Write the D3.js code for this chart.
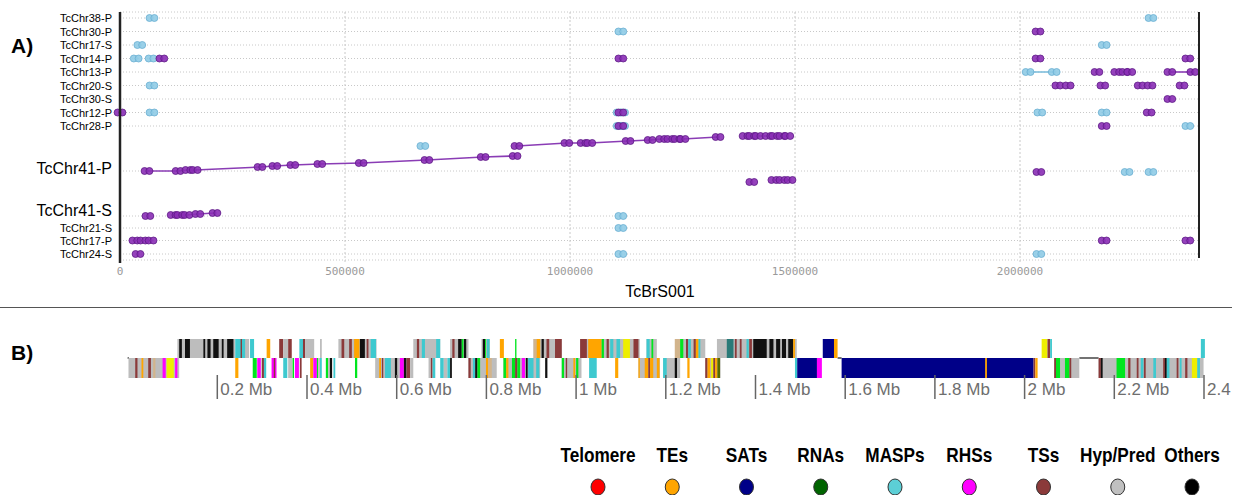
<!DOCTYPE html>
<meta charset="utf-8">
<style>
body { margin: 0; background: #fff; }
text { font-family: "Liberation Sans", Arial, sans-serif; }
</style>
<script src="https://cdn.jsdelivr.net/npm/d3@7"></script>
<body>
</body>
<script>

// ---- panel A data ----
var rows = ["TcChr38-P","TcChr30-P","TcChr17-S","TcChr14-P","TcChr13-P","TcChr20-S","TcChr30-S",
            "TcChr12-P","TcChr28-P","TcChr41-P","TcChr41-S","TcChr21-S","TcChr17-P","TcChr24-S"];
var bigRows = ["TcChr41-P","TcChr41-S"];
var axisTicks = [0, 500000, 1000000, 1500000, 2000000];
var refName = "TcBrS001";

// hits: [row, position kb on TcBrS001, position on query (band rows only), kind, chain]
var hits = [
  ["TcChr38-P", 71, 0, "b", null], ["TcChr38-P", 2291, 0, "b", null],
  ["TcChr30-P", 1113, 0, "b", null], ["TcChr30-P", 2040, 0, "p", null],
  ["TcChr17-S", 44, 0, "b", null], ["TcChr17-S", 2187, 0, "b", null],
  ["TcChr14-P", 36, 0, "b", null], ["TcChr14-P", 69, 0, "b", null], ["TcChr14-P", 93, 0, "p", null],
  ["TcChr14-P", 1113, 0, "p", null], ["TcChr14-P", 2040, 0, "p", null], ["TcChr14-P", 2373, 0, "p", null],
  ["TcChr13-P", 2018, 0, "b", "c1"], ["TcChr13-P", 2076, 0, "b", "c1"],
  ["TcChr13-P", 2171, 0, "p", null], ["TcChr13-P", 2215, 0, "p", null], ["TcChr13-P", 2233, 0, "p", null],
  ["TcChr13-P", 2244, 0, "p", null], ["TcChr13-P", 2333, 0, "p", "c2"], ["TcChr13-P", 2384, 0, "p", "c2"],
  ["TcChr20-S", 71, 0, "b", null], ["TcChr20-S", 2084, 0, "p", null], ["TcChr20-S", 2107, 0, "p", null],
  ["TcChr20-S", 2184, 0, "p", null], ["TcChr20-S", 2267, 0, "p", null], ["TcChr20-S", 2289, 0, "p", null],
  ["TcChr20-S", 2360, 0, "p", null],
  ["TcChr30-S", 2333, 0, "p", null],
  ["TcChr12-P", 71, 0, "b", null], ["TcChr12-P", 0, 0, "p", null],
  ["TcChr12-P", 1109, 0, "b", null], ["TcChr12-P", 1117, 0, "b", null], ["TcChr12-P", 1113, 0, "p", null],
  ["TcChr12-P", 2044, 0, "b", null], ["TcChr12-P", 2187, 0, "b", null], ["TcChr12-P", 2287, 0, "p", null],
  ["TcChr28-P", 1109, 0, "b", null], ["TcChr28-P", 1117, 0, "b", null], ["TcChr28-P", 1113, 0, "p", null],
  ["TcChr28-P", 2187, 0, "p", null], ["TcChr28-P", 2373, 0, "b", null],
  // TcChr41-P synteny
  ["TcChr41-P", 60, 570, "p", "a1"], ["TcChr41-P", 129, 570, "p", "a1"], ["TcChr41-P", 151, 600, "p", "a1"],
  ["TcChr41-P", 167, 600, "p", "a1"], ["TcChr41-P", 311, 690, "p", "a1"], ["TcChr41-P", 344, 720, "p", "a1"],
  ["TcChr41-P", 384, 750, "p", "a1"], ["TcChr41-P", 444, 780, "p", "a1"], ["TcChr41-P", 536, 810, "p", "a1"],
  ["TcChr41-P", 682, 900, "p", "a1"], ["TcChr41-P", 807, 990, "p", "a1"], ["TcChr41-P", 878, 1020, "p", "a1"],
  ["TcChr41-P", 882, 1320, "p", "a2"], ["TcChr41-P", 993, 1410, "p", "a2"], ["TcChr41-P", 1029, 1410, "p", "a2"],
  ["TcChr41-P", 1044, 1410, "p", "a2"], ["TcChr41-P", 1129, 1470, "p", "a2"], ["TcChr41-P", 1178, 1500, "p", "a2"],
  ["TcChr41-P", 1204, 1530, "p", "a2"], ["TcChr41-P", 1222, 1530, "p", "a2"], ["TcChr41-P", 1238, 1530, "p", "a2"],
  ["TcChr41-P", 1251, 1530, "p", "a2"], ["TcChr41-P", 1329, 1590, "p", "a2"],
  ["TcChr41-P", 1389, 1620, "p", "a3"], ["TcChr41-P", 1404, 1620, "p", "a3"], ["TcChr41-P", 1418, 1620, "p", "a3"],
  ["TcChr41-P", 1440, 1620, "p", "a3"], ["TcChr41-P", 1455, 1620, "p", "a3"], ["TcChr41-P", 1471, 1620, "p", "a3"],
  ["TcChr41-P", 1484, 1620, "p", "a3"],
  ["TcChr41-P", 1404, 240, "p", null],
  ["TcChr41-P", 1453, 300, "p", "a4"], ["TcChr41-P", 1471, 300, "p", "a4"], ["TcChr41-P", 1489, 300, "p", "a4"],
  ["TcChr41-P", 673, 1320, "b", null], ["TcChr41-P", 2042, 540, "p", null],
  ["TcChr41-P", 2238, 540, "b", null], ["TcChr41-P", 2291, 540, "b", null],
  // TcChr41-S
  ["TcChr41-S", 62, 570, "p", null],
  ["TcChr41-S", 118, 600, "p", "s1"], ["TcChr41-S", 133, 600, "p", "s1"], ["TcChr41-S", 149, 600, "p", "s1"],
  ["TcChr41-S", 173, 630, "p", "s1"], ["TcChr41-S", 211, 660, "p", "s1"],
  ["TcChr41-S", 1113, 570, "b", null],
  ["TcChr21-S", 1113, 0, "b", null],
  ["TcChr17-P", 33, 0, "p", null], ["TcChr17-P", 51, 0, "p", null], ["TcChr17-P", 69, 0, "p", null],
  ["TcChr17-P", 2187, 0, "p", null], ["TcChr17-P", 2373, 0, "p", null],
  ["TcChr24-S", 40, 0, "p", null], ["TcChr24-S", 1113, 0, "b", null], ["TcChr24-S", 2042, 0, "b", null]
];

// ---- panel B data ----
var legendNames  = ["Telomere","TEs","SATs","RNAs","MASPs","RHSs","TSs","Hyp/Pred","Others"];
var legendColors = ["#ff0000","#ffa500","#000088","#006400","#5ccfd6","#ff00ff","#8b3a3a","#c0c0c0","#000000"];
var trackTicks = [200,400,600,800,1000,1200,1400,1600,1800,2000,2200,2400];

// segment colours used in the track
var segColors = { G:"#bdbdbd", K:"#111111", T:"#3ec9cf", B:"#8b3a3a", O:"#ffa500", M:"#ff00ff",
                  L:"#00e61e", Y:"#eeee00", N:"#d2b48c", V:"#000088", E:"#2a7a78", D:"#556b00" };

// [start kb, end kb, type]  forward strand
var upperSegs = [
  [111,240,"G"],[115,121,"K"],[128,139,"K"],[169,173,"K"],[178,185,"K"],[191,203,"K"],[210,214,"K"],[222,236,"K"],
  [240,266,"T"],[252,255,"B"],[262,271,"G"],[273,282,"T"],
  [310,318,"O"],
  [338,347,"B"],[347,358,"G"],[358,366,"B"],
  [383,396,"T"],[391,396,"B"],[396,416,"G"],
  [429,433,"G"],
  [470,555,"G"],[477,483,"B"],[494,500,"B"],[505,517,"O"],[518,529,"K"],[533,537,"B"],[542,554,"T"],
  [637,697,"G"],[645,650,"B"],[656,663,"T"],[688,697,"T"],
  [719,760,"G"],[724,729,"B"],[737,745,"K"],[745,749,"L"],[750,755,"K"],
  [789,808,"G"],[792,797,"K"],[797,799,"L"],[801,807,"T"],
  [830,839,"O"],
  [864,867,"L"],
  [905,968,"G"],[905,912,"N"],[912,920,"O"],[923,928,"K"],[934,940,"B"],[953,968,"B"],
  [1009,1142,"G"],[1009,1024,"B"],[1027,1057,"O"],[1057,1062,"L"],[1068,1073,"B"],[1076,1083,"T"],
  [1090,1098,"T"],[1105,1120,"Y"],[1128,1139,"B"],
  [1157,1180,"G"],[1157,1164,"T"],[1168,1172,"L"],
  [1220,1232,"N"],
  [1232,1288,"G"],[1232,1239,"L"],[1245,1250,"B"],[1250,1256,"T"],[1262,1267,"B"],[1267,1273,"O"],[1273,1277,"T"],
  [1314,1492,"G"],[1336,1351,"E"],[1354,1358,"B"],[1365,1369,"B"],[1380,1385,"T"],[1386,1392,"B"],
  [1395,1425,"K"],[1431,1440,"K"],[1446,1455,"K"],[1459,1468,"K"],[1473,1484,"K"],[1484,1488,"O"],
  [1550,1575,"V"],[1575,1583,"O"],
  [2038,2051,"Y"],[2051,2057,"B"],[2057,2061,"T"],
  [2393,2402,"T"]
];

// reverse strand
var lowerSegs = [
  [2,115,"G"],[17,22,"B"],[31,35,"O"],[46,52,"B"],[57,62,"N"],[78,85,"M"],[87,103,"Y"],[106,111,"M"],
  [240,247,"O"],
  [279,288,"L"],[289,297,"M"],[299,304,"B"],[304,309,"T"],
  [321,332,"M"],[326,329,"B"],
  [347,356,"T"],
  [358,368,"G"],[368,371,"L"],[373,382,"M"],[384,388,"B"],
  [407,414,"O"],[414,422,"M"],[422,425,"L"],[425,429,"G"],[429,433,"T"],
  [442,447,"L"],[447,451,"G"],[451,456,"K"],[459,463,"T"],
  [507,512,"L"],
  [552,607,"G"],[561,565,"O"],[567,570,"B"],[574,587,"T"],[596,601,"K"],
  [607,616,"M"],[616,622,"K"],[622,630,"B"],[630,637,"G"],
  [671,676,"G"],[676,680,"B"],[680,686,"T"],
  [697,705,"T"],[705,713,"G"],[713,719,"T"],[719,723,"K"],
  [760,823,"G"],[760,765,"B"],[770,775,"T"],[775,780,"K"],[780,786,"L"],[799,804,"O"],[804,812,"N"],
  [838,920,"G"],[838,844,"L"],[844,849,"O"],[857,864,"L"],[864,869,"B"],[869,875,"L"],[879,886,"M"],
  [888,892,"K"],[893,905,"T"],[911,918,"T"],
  [931,936,"K"],
  [968,1012,"G"],[968,973,"L"],[977,980,"B"],[994,998,"O"],[1000,1005,"L"],
  [1029,1046,"T"],
  [1087,1094,"O"],
  [1139,1187,"G"],[1139,1142,"O"],[1153,1161,"O"],[1161,1165,"B"],[1165,1172,"O"],[1180,1186,"O"],
  [1194,1232,"G"],[1194,1202,"T"],[1220,1225,"K"],
  [1248,1253,"O"],
  [1288,1322,"G"],[1288,1293,"B"],[1293,1299,"O"],[1301,1306,"Y"],[1306,1310,"B"],[1310,1315,"O"],[1315,1321,"D"],
  [1488,1493,"T"],[1493,1537,"V"],[1537,1548,"M"],
  [1592,2020,"V"],[1912,1916,"O"],[2020,2024,"B"],[2024,2029,"O"],
  [2066,2122,"G"],[2066,2070,"B"],[2070,2079,"L"],[2090,2100,"L"],[2100,2104,"B"],
  [2165,2399,"G"],[2165,2170,"B"],[2170,2174,"K"],[2205,2224,"L"],[2231,2236,"B"],[2250,2254,"B"],
  [2259,2265,"T"],[2266,2270,"B"],[2287,2293,"T"],[2309,2313,"B"],[2313,2317,"K"],[2317,2323,"T"],
  [2339,2343,"B"],[2346,2350,"T"],[2358,2363,"B"],[2373,2385,"Y"],[2385,2391,"T"]
];
var backbone = [[0,3],[1583,1592],[2122,2165]];

// ================= drawing =================
const width = 1235, height = 495;
var svg = d3.select("body").append("svg")
    .attr("width", width).attr("height", height)
    .style("display", "block");

// ---- panel A ----
var xA = d3.scaleLinear().domain([0, 2400000]).range([120, 1200]);

// row layout (big rows get extra room)
var rowStep = [0,13.5,13.5,13.5,13.5,13.5,13.5,13.5,13.5,45,45,12,12.5,13.5];
var rowY = {};
var acc = 18;
rows.forEach((r,i) => { acc += rowStep[i]; rowY[r] = acc; });

function hitY(d) {
  if (bigRows.indexOf(d[0]) >= 0) return rowY[d[0]] + 19 - d[2]/30;
  return rowY[d[0]];
}

var gA = svg.append("g");

// grid
gA.selectAll(".hgrid").data(rows.concat(["_top","_bot"])).enter().append("line")
  .attr("x1", xA(0)).attr("x2", xA(2400000))
  .attr("y1", d => d == "_top" ? 12 : d == "_bot" ? 260 : rowY[d])
  .attr("y2", d => d == "_top" ? 12 : d == "_bot" ? 260 : rowY[d])
  .attr("stroke", "#c8c8c8").attr("stroke-width", 1).attr("stroke-dasharray", "1,2");

gA.selectAll(".vgrid").data(axisTicks.slice(1)).enter().append("line")
  .attr("x1", d => xA(d)).attr("x2", d => xA(d))
  .attr("y1", 12).attr("y2", 262)
  .attr("stroke", "#c8c8c8").attr("stroke-width", 1).attr("stroke-dasharray", "2,2");

gA.selectAll(".tick").data(axisTicks).enter().append("text")
  .attr("x", d => xA(d)).attr("y", 275)
  .attr("text-anchor", "middle")
  .style("font-family", "'DejaVu Sans Mono', monospace")
  .style("font-size", "11px")
  .attr("fill", "#9a9a9a")
  .text(d => d);

gA.append("text").attr("x", 660).attr("y", 297).attr("text-anchor", "middle")
  .style("font-size", "16px").text(refName);

// row labels
gA.selectAll(".rowlab").data(rows).enter().append("text")
  .attr("x", 112)
  .attr("y", d => d == "TcChr41-P" ? rowY[d] + 3 : d == "TcChr41-S" ? rowY[d] : rowY[d] + 4)
  .attr("text-anchor", "end")
  .style("font-size", d => bigRows.indexOf(d) >= 0 ? "16px" : "11px")
  .text(d => d);

// chains
var chains = d3.groups(hits.filter(d => d[4]), d => d[4]);
var line = d3.line().x(d => xA(d[1]*1000)).y(hitY);
gA.selectAll(".chain").data(chains).enter().append("path")
  .attr("d", d => line(d[1].slice().sort((a,b) => a[1]-b[1])))
  .attr("fill", "none")
  .attr("stroke", d => d[1][0][3] == "b" ? "#7fbfdc" : "#8a3cb5")
  .attr("stroke-width", 1.6);

// hits, blue first, purple on top
var hitOrder = hits.filter(d => d[3] == "b").concat(hits.filter(d => d[3] == "p"));
var gh = gA.selectAll(".hit").data(hitOrder).enter().append("g")
  .attr("transform", d => `translate(${xA(d[1]*1000)},${hitY(d)})`);
[-2.4, 2.4].forEach(dx => {
  gh.append("circle").attr("cx", dx).attr("cy", 0).attr("r", 3.5)
    .attr("fill", d => d[3] == "b" ? "#8fcbe6" : "#8a2db5")
    .attr("fill-opacity", 0.9)
    .attr("stroke", d => d[3] == "b" ? "#6aaed2" : "#5e1a86")
    .attr("stroke-width", 0.8);
});

// frame lines
gA.append("line").attr("x1", 120).attr("x2", 120).attr("y1", 12).attr("y2", 263)
  .attr("stroke", "#222").attr("stroke-width", 2.5);
gA.append("line").attr("x1", 1199).attr("x2", 1199).attr("y1", 12).attr("y2", 258)
  .attr("stroke", "#222").attr("stroke-width", 2);

svg.append("text").attr("x", 11).attr("y", 53).style("font-size", "21px").style("font-weight", "bold").text("A)");
svg.append("line").attr("x1", 0).attr("x2", 1232).attr("y1", 307.5).attr("y2", 307.5)
  .attr("stroke", "#555").attr("stroke-width", 1);

// ---- panel B ----
svg.append("text").attr("x", 11).attr("y", 360).style("font-size", "21px").style("font-weight", "bold").text("B)");

var xB = d3.scaleLinear().domain([0, 2400]).range([127.6, 1204]);
var gB = svg.append("g");

gB.selectAll(".bb").data(backbone).enter().append("line")
  .attr("x1", d => xB(d[0])).attr("x2", d => xB(d[1]))
  .attr("y1", 358).attr("y2", 358)
  .attr("stroke", "#444").attr("stroke-width", 1.5);

gB.selectAll(".up").data(upperSegs).enter().append("rect")
  .attr("x", d => xB(d[0])).attr("width", d => Math.max(1, xB(d[1]) - xB(d[0])))
  .attr("y", 339).attr("height", 19)
  .attr("fill", d => segColors[d[2]]);

gB.selectAll(".lo").data(lowerSegs).enter().append("rect")
  .attr("x", d => xB(d[0])).attr("width", d => Math.max(1, xB(d[1]) - xB(d[0])))
  .attr("y", 358).attr("height", 20)
  .attr("fill", d => segColors[d[2]]);

var gt = gB.selectAll(".tt").data(trackTicks).enter().append("g")
  .attr("transform", d => `translate(${xB(d)},0)`);
gt.append("line").attr("y1", 375).attr("y2", 399).attr("stroke", "#666").attr("stroke-width", 1.5);
gt.append("text").attr("x", 3).attr("y", 395)
  .style("font-size", "17px").attr("fill", "#6e6e6e")
  .text(d => (d/1000) + " Mb");

// legend (condensed bold labels)
var xL = d3.scalePoint().domain(legendNames).range([598, 1192]);
var gl = svg.append("g").selectAll(".lg").data(legendNames).enter().append("g")
  .attr("transform", d => `translate(${xL(d)},0)`);
gl.append("text").attr("y", 462).attr("text-anchor", "middle")
  .attr("transform", "scale(0.82,1)")
  .style("font-weight", "bold").style("font-size", "21px")
  .text(d => d);
gl.append("ellipse").attr("cx", 0).attr("cy", 487).attr("rx", 7).attr("ry", 8)
  .attr("fill", (d,i) => legendColors[i]).attr("stroke", "#333").attr("stroke-width", 1);

</script>
